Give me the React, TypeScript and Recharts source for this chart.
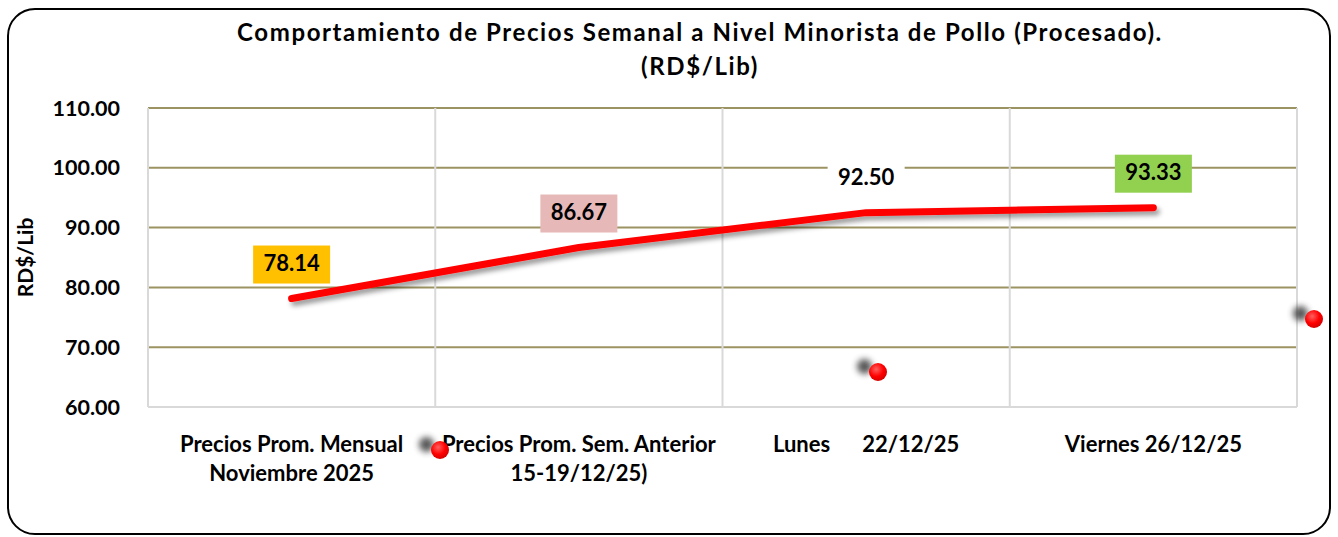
import { LineChart, Line, XAxis, YAxis, CartesianGrid, LabelList } from 'recharts';

// data
const categories = [
    'Precios Prom. Mensual|Noviembre 2025',
    'Precios Prom. Sem. Anterior|15-19/12/25)',
    'Lunes      22/12/25',
    'Viernes 26/12/25',
];
const prices = [78.14, 86.67, 92.5, 93.33];
const labelColors = ['#ffc000', '#e6b9b8', '#ffffff', '#92d050'];
const yTicks = [60, 70, 80, 90, 100, 110];

const chartData = categories.map((name, i) => ({ name, price: prices[i] }));

const FONT = 'Lato, "Open Sans", sans-serif';

const CategoryTick = ({ x, y, payload }: any) => {
    const lines = String(payload.value).split('|');
    return (
        <text
            x={x}
            y={y}
            textAnchor="middle"
            fontFamily={FONT}
            fontWeight={700}
            fontSize={22}
            fill="#000"
            style={{ whiteSpace: 'pre' }}
        >
            {lines.map((l, i) => (
                <tspan key={i} x={x} dy={i === 0 ? 31 : 29} dominantBaseline="middle">
                    {l}
                </tspan>
            ))}
        </text>
    );
};

const PriceLabel = ({ x, y, value, index }: any) => {
    const w = 77;
    const h = 38;
    const top = y - 15 - h;
    return (
        <g>
            <rect x={x - w / 2} y={top} width={w} height={h} fill={labelColors[index]} />
            <text
                x={x}
                y={top + h / 2 + 1}
                textAnchor="middle"
                dominantBaseline="middle"
                fontFamily={FONT}
                fontWeight={700}
                fontSize={22}
                fill="#000"
            >
                {Number(value).toFixed(2)}
            </text>
        </g>
    );
};

const YLabel = ({ viewBox }: any) => {
    const cx = viewBox.x + 28;
    const cy = viewBox.y + viewBox.height / 2;
    return (
        <text
            x={cx}
            y={cy}
            transform={`rotate(-90 ${cx} ${cy})`}
            textAnchor="middle"
            dominantBaseline="middle"
            fontFamily={FONT}
            fontWeight={700}
            fontSize={21}
            fill="#000"
        >
            RD$/Lib
        </text>
    );
};

// decorative red balls w/ blurred shadows (from the original image)
const Ball = ({ left, top }: { left: number; top: number }) => (
    <>
        <div
            style={{
                position: 'absolute',
                left: left - 21,
                top: top - 13,
                width: 15,
                height: 15,
                borderRadius: '50%',
                background: '#3a3a3a',
                filter: 'blur(3px)',
                opacity: 0.85,
            }}
        />
        <div
            style={{
                position: 'absolute',
                left: left - 9,
                top: top - 9,
                width: 18,
                height: 18,
                borderRadius: '50%',
                background: 'radial-gradient(circle at 40% 35%, #ff6060 0%, #ff0000 45%, #b00000 100%)',
            }}
        />
    </>
);

export default function App() {
    return (
        <div style={{ position: 'absolute', left: 0, top: 0, width: 1338, height: 537, background: '#fff', overflow: 'hidden' }}>
            <div
                style={{
                    position: 'absolute',
                    left: 7,
                    top: 8,
                    width: 1320,
                    height: 523,
                    border: '2px solid #000',
                    borderRadius: 28,
                }}
            />
            <div
                style={{
                    position: 'absolute',
                    left: 0,
                    top: 15,
                    width: 1400,
                    textAlign: 'center',
                    fontFamily: FONT,
                    fontWeight: 700,
                    fontSize: 24,
                    letterSpacing: 1.6,
                    lineHeight: '34px',
                    color: '#000',
                }}
            >
                Comportamiento de Precios Semanal a Nivel Minorista de Pollo (Procesado).
                <br />
                (RD$/Lib)
            </div>
            <div style={{ position: 'absolute', left: 0, top: 0 }}>
                <LineChart
                    width={1338}
                    height={537}
                    data={chartData}
                    margin={{ top: 108, right: 41, bottom: 0, left: 0 }}
                >
                    <defs>
                        <filter id="lineShadow" x="-10%" y="-50%" width="120%" height="200%">
                            <feDropShadow dx="3" dy="4" stdDeviation="2.5" floodColor="#000" floodOpacity="0.4" />
                        </filter>
                    </defs>
                    <CartesianGrid
                        stroke="#9c9362"
                        strokeWidth={2}
                        vertical={false}
                    />
                    <CartesianGrid
                        stroke="#d9d9d9"
                        strokeWidth={2}
                        horizontal={false}
                        verticalCoordinatesGenerator={({ offset }: any) =>
                            categories.map((_, i) => offset.left + (offset.width * i) / categories.length)
                                .concat(offset.left + offset.width)
                        }
                    />
                    <XAxis
                        dataKey="name"
                        scale="band"
                        interval={0}
                        stroke="#d9d9d9"
                        strokeWidth={2}
                        tickLine={false}
                        tick={<CategoryTick />}
                        height={130}
                    />
                    <YAxis
                        domain={[60, 110]}
                        ticks={yTicks}
                        width={148}
                        axisLine={false}
                        tickLine={false}
                        tickSize={0}
                        tickMargin={28}
                        tickFormatter={(v: number) => v.toFixed(2)}
                        tick={{ fill: '#000', fontSize: 21.5, fontWeight: 700, fontFamily: FONT }}
                        label={<YLabel />}
                    />
                    <Line
                        type="linear"
                        dataKey="price"
                        stroke="#ff0000"
                        strokeWidth={7}
                        strokeLinecap="round"
                        strokeLinejoin="round"
                        filter="url(#lineShadow)"
                        dot={false}
                        activeDot={false}
                        isAnimationActive={false}
                    >
                        <LabelList dataKey="price" content={<PriceLabel />} />
                    </Line>
                </LineChart>
            </div>
            <Ball left={440} top={450} />
            <Ball left={878} top={372} />
            <Ball left={1314} top={319} />
        </div>
    );
}
